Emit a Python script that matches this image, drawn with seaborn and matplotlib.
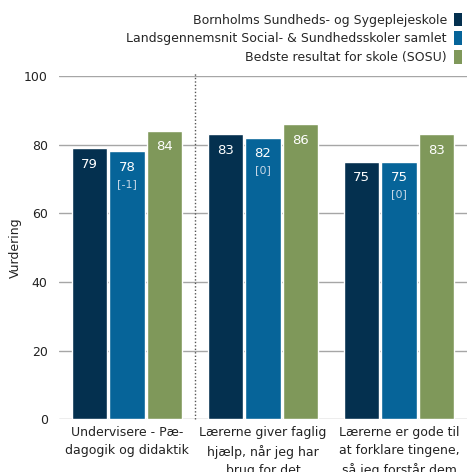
import pandas as pd
import numpy as np
import seaborn as sns
import matplotlib.pyplot as plt
from matplotlib.patches import Patch

categories = ["Undervisere - Pæ-\ndagogik og didaktik",
              "Lærerne giver faglig\nhjælp, når jeg har\nbrug for det",
              "Lærerne er gode til\nat forklare tingene,\nså jeg forstår dem"]
series = ["Bornholms Sundheds- og Sygeplejeskole",
          "Landsgennemsnit Social- & Sundhedsskoler samlet",
          "Bedste resultat for skole (SOSU)"]
school = [79, 83, 75]
national = [78, 82, 75]
best = [84, 86, 83]
national_diff = ["[-1]", "[0]", "[0]"]
colors = ["#04304F", "#066499", "#7F985A"]

df = pd.DataFrame({
    "Kategori": categories * 3,
    "Serie": [series[0]] * 3 + [series[1]] * 3 + [series[2]] * 3,
    "Vurdering": school + national + best,
})

sns.set_style("white")
plt.rcParams['font.family'] = ['DejaVu Sans']

fig = plt.figure(figsize=(4.67, 4.72), dpi=100)
ax = fig.add_axes([0.126, 0.112, 0.874, 0.727])

sns.barplot(data=df, x="Kategori", y="Vurdering", hue="Serie", palette=colors,
            width=0.83, gap=0.06, saturation=1, legend=False, ax=ax, zorder=3)

ax.set_ylim(0, 100)
ax.set_xlim(-0.5, 2.5)
ax.set_yticks([0, 20, 40, 60, 80, 100])
for y in [0, 20, 40, 60, 80, 100]:
    ax.axhline(y, color="#a6a6a6", lw=1, zorder=0)
ax.axvline(0.5, ymin=0, ymax=1.01, color="#555555", lw=1, ls=(0, (1, 1.5)),
           clip_on=False, zorder=1)
for s in ax.spines.values():
    s.set_visible(False)
ax.tick_params(axis="both", length=0, labelsize=9, colors="#222222")
ax.tick_params(axis="y", pad=8)
ax.tick_params(axis="x", pad=5)
for t in ax.get_xticklabels():
    t.set_linespacing(1.5)
ax.set_xlabel("")
ax.set_ylabel("")
fig.text(0.032, 0.476, "Vurdering", rotation=90, ha="center", va="center",
         fontsize=9, color="#222222")

# value labels
for i, cont in enumerate(ax.containers):
    for j, bar in enumerate(cont):
        x = bar.get_x() + bar.get_width() / 2
        h = bar.get_height()
        ax.annotate(str(int(h)), (x, h), xytext=(0, -11.5), textcoords="offset points",
                    ha="center", va="center", color="white", fontsize=9.5, zorder=4)
        if i == 1:
            ax.annotate(national_diff[j], (x, h), xytext=(0, -23.5), textcoords="offset points",
                        ha="center", va="center", color="#c5d6e6", fontsize=8, zorder=4)

handles = [Patch(facecolor=c, edgecolor="none") for c in colors]
fig.legend(handles, series, loc="upper right", bbox_to_anchor=(0.989, 0.973), frameon=False,
           markerfirst=False, fontsize=9, handlelength=0.6, handleheight=1.3,
           handletextpad=0.6, labelspacing=0.38, borderaxespad=0, borderpad=0)

fig.savefig("out.png", dpi=100)
